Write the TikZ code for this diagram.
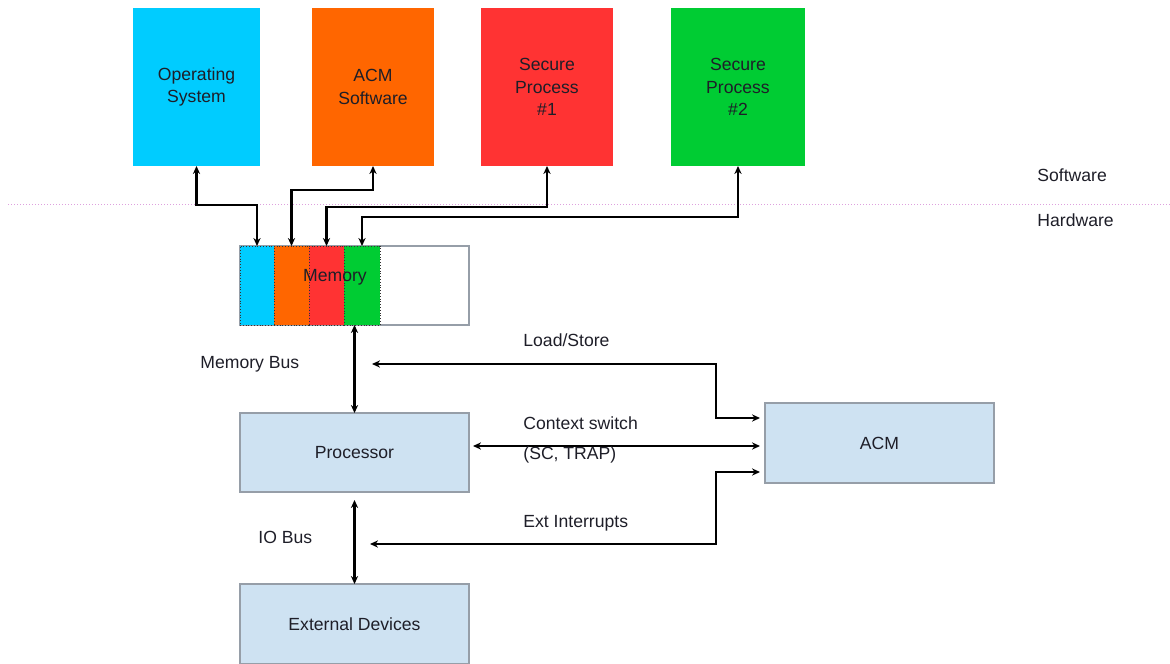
\documentclass[tikz,border=0pt]{standalone}
\usepackage{fontspec}
\setmainfont{Liberation Sans}
\usetikzlibrary{arrows.meta}
\definecolor{oscyan}{RGB}{0,204,255}
\definecolor{acmorange}{RGB}{255,102,0}
\definecolor{spred}{RGB}{255,51,51}
\definecolor{spgreen}{RGB}{0,204,51}
\definecolor{hwfill}{RGB}{206,226,242}
\definecolor{hwdraw}{RGB}{150,158,168}
\definecolor{sepline}{RGB}{222,160,222}
\definecolor{txt}{RGB}{30,30,40}
\tikzset{
  swbox/.style={rectangle, inner sep=0pt, outer sep=0pt, minimum height=79pt,
    align=center, text=txt},
  hwbox/.style={rectangle, inner sep=0pt, outer sep=0pt, fill=hwfill, draw=hwdraw,
    line width=0.6pt, minimum width=114.5pt, minimum height=39.5pt, text=txt},
  memseg/.style={rectangle, inner sep=0pt, outer sep=0pt, minimum height=39.5pt,
    draw=black!80, densely dotted, line width=0.4pt},
  lbl/.style={anchor=west, inner sep=0pt, text=txt},
  swlink/.style={{Stealth[length=4pt,width=3.6pt]}-{Stealth[length=4pt,width=3.6pt]},
    line width=1.3pt, line join=miter},
  buslink/.style={{Stealth[length=4pt,width=3.6pt]}-{Stealth[length=4pt,width=3.6pt]},
    line width=1.3pt},
  ctrllink/.style={{Stealth[length=4pt,width=3.6pt]}-{Stealth[length=4pt,width=3.6pt]},
    line width=1pt, line join=miter, shorten >=2.5pt},
}
\begin{document}
\begin{tikzpicture}[x=0.5pt, y=-0.5pt, font=\fontsize{8.8}{11.2}\selectfont]
\useasboundingbox (0,0) rectangle (1170,663);

% software layer
\node[swbox, fill=oscyan, minimum width=63.5pt] (os) at (196.5,87) {Operating\\System};
\node[swbox, fill=acmorange, minimum width=61pt] (acmsw) at (373,87) {ACM\\Software};
\node[swbox, fill=spred, minimum width=66pt] (sp1) at (547,87) {Secure\\Process\\\#1};
\node[swbox, fill=spgreen, minimum width=67pt] (sp2) at (738,87) {Secure\\Process\\\#2};

% software / hardware boundary
\coordinate (sepL) at (8,204);
\coordinate (sepR) at (1170,204);
\draw[sepline, densely dotted, line width=0.5pt] (sepL) -- (sepR);
\node[lbl] (swlbl) at (1037,175) {Software};
\node[lbl] (hwlbl) at (1037,220) {Hardware};

% memory with its partitions
\node[rectangle, inner sep=0pt, outer sep=0pt, fill=white, draw=hwdraw, line width=0.6pt,
  minimum width=114.5pt, minimum height=39.5pt] (mem) at (354.5,285.5) {};
\node[memseg, fill=oscyan, minimum width=17pt] (mcyan) at (257,285.5) {};
\node[memseg, fill=acmorange, minimum width=17.5pt] (morange) at (291.5,285.5) {};
\node[memseg, fill=spred, minimum width=17.5pt] (mred) at (326.5,285.5) {};
\node[memseg, fill=spgreen, minimum width=18pt] (mgreen) at (362,285.5) {};
\node[text=txt, inner sep=0pt] (memlbl) at (335,277) {Memory};

% hardware blocks
\node[hwbox] (proc) at (354.5,452.5) {Processor};
\node[hwbox, minimum height=40pt] (ext) at (354.5,624) {External Devices};
\node[hwbox, minimum height=40pt] (acm) at (879.5,443) {ACM};

% software to memory links
\draw[swlink] (os.south) -- (os.south |- 0,205) -| (mcyan.north);
\draw[swlink] (acmsw.south) -- (acmsw.south |- 0,190) -| (morange.north);
\draw[swlink] (sp1.south) -- (sp1.south |- 0,207) -| (mred.north);
\draw[swlink] (sp2.south) -- (sp2.south |- 0,217) -| (mgreen.north);

% buses
\draw[buslink] (proc.north) -- (proc.north |- mem.south);
\draw[buslink, shorten <=4pt] (proc.south) -- (ext.north);
\node[lbl] (mbus) at (200,364) {Memory Bus};
\node[lbl] (iobus) at (258,537) {IO Bus};

% ACM control paths
\coordinate (lsend) at (372,364);
\coordinate (lsbend) at (716,364);
\draw[ctrllink] (lsend) -- (lsbend) |- (acm.west |- 0,418);
\draw[ctrllink, shorten <=2pt] (proc.east |- 0,446) -- (acm.west |- 0,446);
\coordinate (eiend) at (370,544);
\coordinate (eibend) at (716,544);
\draw[ctrllink] (eiend) -- (eibend) |- (acm.west |- 0,472);

\node[lbl] (lslbl) at (523,340) {Load/Store};
\node[lbl] (cslbl) at (523,423) {Context switch};
\node[lbl] (trlbl) at (523,455) {(SC, TRAP)};
\node[lbl] (eilbl) at (523,523) {Ext Interrupts};
\end{tikzpicture}
\end{document}
